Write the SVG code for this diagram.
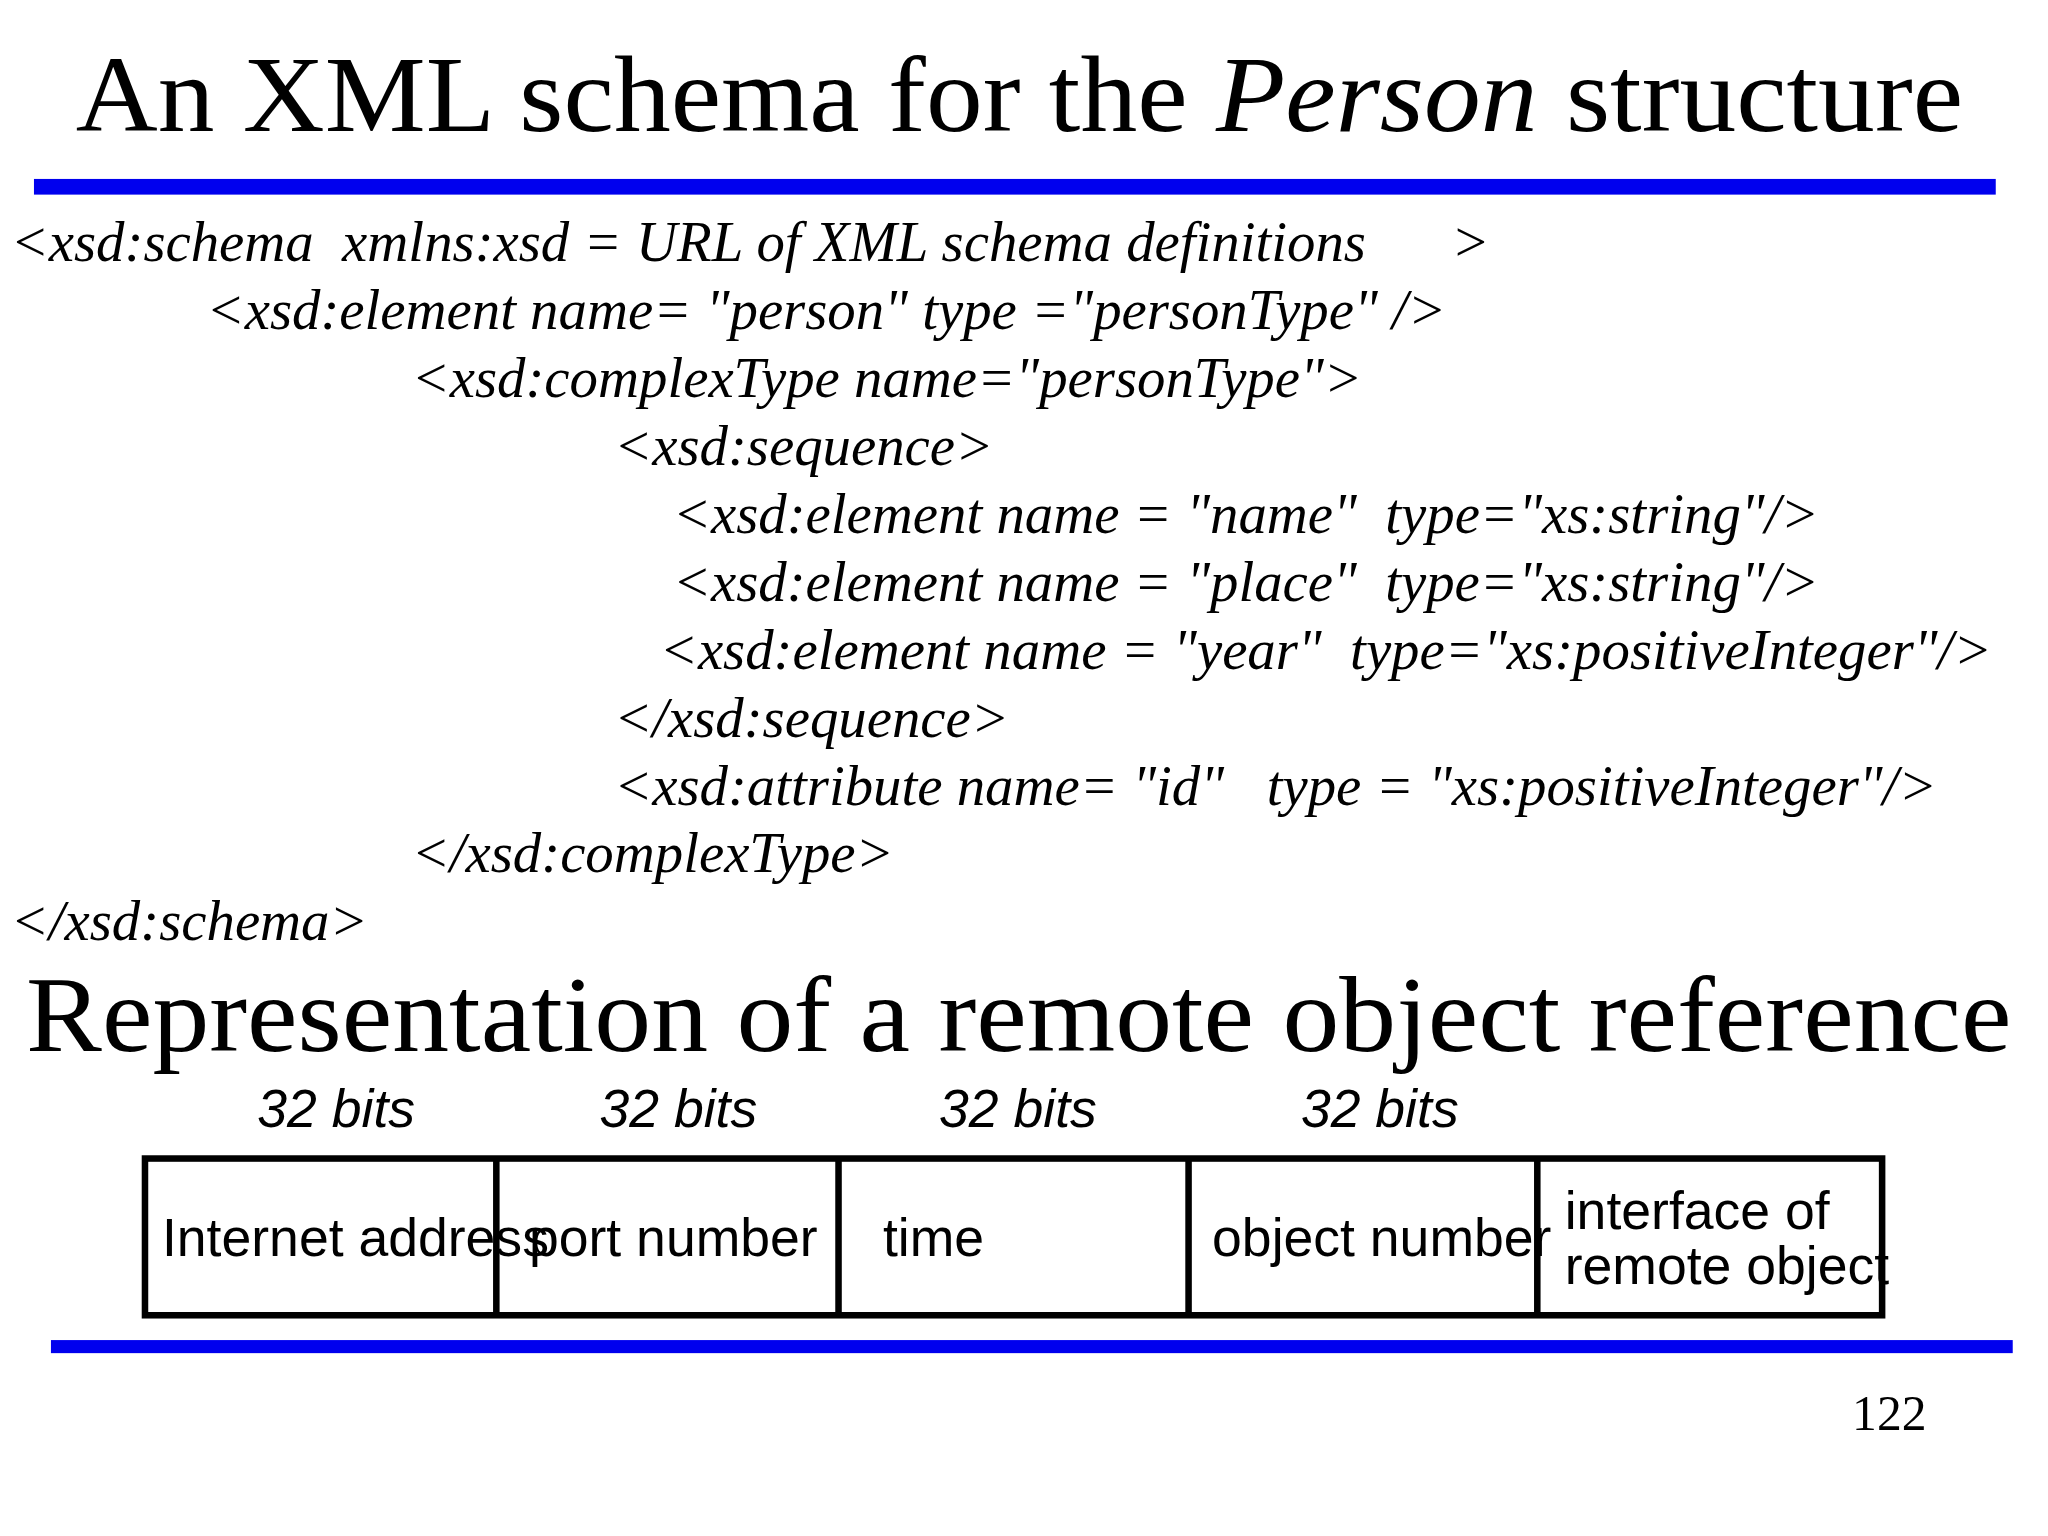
<svg xmlns="http://www.w3.org/2000/svg" width="2048" height="1536" viewBox="0 0 2048 1536">
<style>
.t{font-family:"Liberation Serif",serif;font-size:82px;fill:#000}
.c{font-family:"Liberation Serif",serif;font-style:italic;font-size:43.5px;fill:#000;white-space:pre}
.b{font-family:"Liberation Sans",sans-serif;font-style:italic;font-size:41px;fill:#000}
.f{font-family:"Liberation Sans",sans-serif;font-size:41px;fill:#000}
</style>
<rect width="2048" height="1536" fill="#fff"/>
<g transform="scale(1.30612)">
<g id="title"><text class="t" x="58" y="100" textLength="1445" lengthAdjust="spacingAndGlyphs">An XML schema for the <tspan font-style="italic">Person</tspan> structure</text></g>
<g id="rules">
<rect x="26" y="137" width="1502" height="12" fill="#0000ee"/>
<rect x="39" y="1026" width="1502" height="10" fill="#0000ee"/>
</g>
<g id="code" xml:space="preserve">
<text class="c" x="8" y="200">&lt;xsd:schema  xmlns:xsd = URL of XML schema definitions      &gt;</text>
<text class="c" x="158" y="252">&lt;xsd:element name= "person" type ="personType" /&gt;</text>
<text class="c" x="315" y="304">&lt;xsd:complexType name="personType"&gt;</text>
<text class="c" x="470" y="356">&lt;xsd:sequence&gt;</text>
<text class="c" x="515" y="408">&lt;xsd:element name = "name"  type="xs:string"/&gt;</text>
<text class="c" x="515" y="460">&lt;xsd:element name = "place"  type="xs:string"/&gt;</text>
<text class="c" x="505" y="512">&lt;xsd:element name = "year"  type="xs:positiveInteger"/&gt;</text>
<text class="c" x="470" y="564">&lt;/xsd:sequence&gt;</text>
<text class="c" x="470" y="616">&lt;xsd:attribute name= "id"   type = "xs:positiveInteger"/&gt;</text>
<text class="c" x="315" y="668">&lt;/xsd:complexType&gt;</text>
<text class="c" x="8" y="720">&lt;/xsd:schema&gt;</text>
</g>
<g id="heading2"><text class="t" x="20" y="805" textLength="1520" lengthAdjust="spacingAndGlyphs">Representation of a remote object reference</text></g>
<g id="bits">
<text class="b" x="197" y="863">32 bits</text>
<text class="b" x="459" y="863">32 bits</text>
<text class="b" x="719" y="863">32 bits</text>
<text class="b" x="996" y="863">32 bits</text>
</g>
<g id="box" stroke="#000" stroke-width="5" fill="none">
<rect x="111" y="887" width="1330" height="120"/>
<line x1="380" y1="887" x2="380" y2="1007"/>
<line x1="642" y1="887" x2="642" y2="1007"/>
<line x1="910" y1="887" x2="910" y2="1007"/>
<line x1="1177" y1="887" x2="1177" y2="1007"/>
</g>
<g id="cells">
<text class="f" x="124" y="962">Internet address</text>
<text class="f" x="405" y="962">port number</text>
<text class="f" x="676" y="962">time</text>
<text class="f" x="928" y="962">object number</text>
<text class="f" x="1198" y="941">interface of</text>
<text class="f" x="1198" y="983">remote object</text>
</g>
<g id="page"><text class="c" style="font-style:normal;font-size:38px" x="1418" y="1095">122</text></g>
</g>
</svg>
